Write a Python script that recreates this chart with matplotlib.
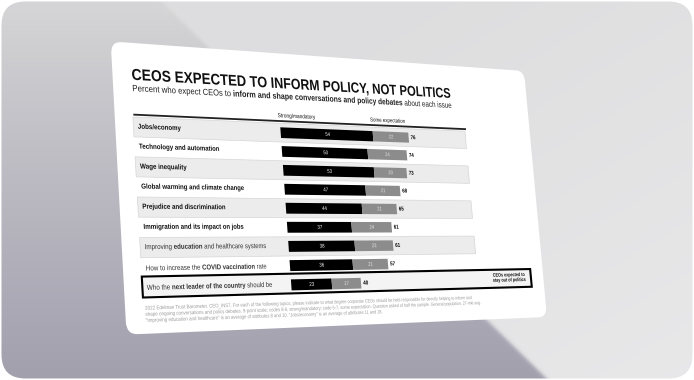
import numpy as np
import matplotlib
matplotlib.use("Agg")
import matplotlib.pyplot as plt
from matplotlib import patheffects
from matplotlib.path import Path
from matplotlib.patches import FancyBboxPatch, Rectangle
from matplotlib.transforms import IdentityTransform, blended_transform_factory
from matplotlib.lines import Line2D

plt.rcParams['font.family'] = ['Liberation Sans', 'DejaVu Sans']
plt.rcParams['mathtext.fontset'] = 'custom'
plt.rcParams['mathtext.rm'] = 'Liberation Sans'
plt.rcParams['mathtext.bf'] = 'Liberation Sans:bold'
plt.rcParams['mathtext.it'] = 'Liberation Sans:italic'

# ---------------- data ----------------
title = "CEOS EXPECTED TO INFORM POLICY, NOT POLITICS"
subtitle_plain_a = "Percent who expect CEOs to "
subtitle_bold = "inform and shape conversations and policy debates"
subtitle_plain_b = " about each issue"
categories = ["Jobs/economy",
              "Technology and automation",
              "Wage inequality",
              "Global warming and climate change",
              "Prejudice and discrimination",
              "Immigration and its impact on jobs",
              "Improving education and healthcare systems",
              "How to increase the COVID vaccination rate",
              "Who the next leader of the country should be"]
emphasis = ["", "", "", "", "", "",
            "education", "COVID vaccination", "next leader of the country"]
strong = [54, 50, 53, 47, 44, 37, 38, 36, 23]
some = [22, 24, 20, 21, 21, 24, 23, 21, 17]
totals = [76, 74, 73, 68, 65, 61, 61, 57, 40]
series_names = ["Strong/mandatory", "Some expectation"]
callout = "CEOs expected to\nstay out of politics"
footnote = ("2022 Edelman Trust Barometer. CEO_INS7. For each of the following topics, please indicate to what degree corporate CEOs should be held responsible for directly helping to inform and\n"
            "shape ongoing conversations and policy debates. 9-point scale; codes 8-9, strong/mandatory; code 5-7, some expectation. Question asked of half the sample. General population, 27-mkt avg.\n"
            "\"Improving education and healthcare\" is an average of attributes 8 and 10. \"Jobs/economy\" is an average of attributes 11 and 18.")

# ---------------- geometry / layout ----------------
FIG_W, FIG_H = 694, 380
SW, SH = 540.0, 280.0                     # flat slide size (px)
CARD = np.array([[110.7, 41.4], [524.0, 71.0], [547.0, 317.0], [126.5, 334.6]])  # TL TR BR BL


def unit_homography(corners):
    src = [(0, 0), (1, 0), (1, 1), (0, 1)]
    A, b = [], []
    for (u, v), (x, y) in zip(src, corners):
        A.append([u, v, 1, 0, 0, 0, -u * x, -v * x]); b.append(x)
        A.append([0, 0, 0, u, v, 1, -u * y, -v * y]); b.append(y)
    h = np.linalg.solve(np.array(A, float), np.array(b, float))
    return np.append(h, 1.0).reshape(3, 3)


M = unit_homography(CARD)


def to_image(XY):
    XY = np.asarray(XY, float)
    u = XY[:, 0] / SW
    v = (SH - XY[:, 1]) / SH
    P = np.column_stack([u, v, np.ones_like(u)]) @ M.T
    return np.column_stack([P[:, 0] / P[:, 2], FIG_H - P[:, 1] / P[:, 2]])


class Warp(patheffects.AbstractPathEffect):
    def draw_path(self, renderer, gc, tpath, affine, rgbFace=None):
        verts = affine.transform(tpath.vertices)
        renderer.draw_path(gc, Path(to_image(verts), tpath.codes),
                           IdentityTransform(), rgbFace)


WARP = [Warp()]

fig = plt.figure(figsize=(FIG_W / 100, FIG_H / 100), dpi=100)
fig.patch.set_facecolor("white")

# ---------------- background ----------------
bax = fig.add_axes([0, 0, 1, 1])
bax.set_axis_off()
yy, xx = np.mgrid[0:FIG_H, 0:FIG_W] + 0.5
diag = (xx - 160) - yy * (385.0 / 377.0)
w = (1 / (1 + np.exp(-diag / 1.5)))[..., None]
tl = np.clip((yy - 10) / 360, 0, 1)[..., None] ** 0.9
left = np.array([0.835, 0.835, 0.84]) * (1 - tl) + np.array([0.64, 0.63, 0.685]) * tl
tr = np.clip((yy + (xx - 450) * 0.6) / 520, 0, 1)[..., None]
right = np.array([0.87, 0.87, 0.875]) * (1 - tr) + np.array([0.91, 0.91, 0.915]) * tr
img = left * (1 - w) + right * w
im = bax.imshow(img, extent=(0, FIG_W, FIG_H, 0), interpolation="bilinear", aspect="auto", zorder=0)
bax.set_xlim(0, FIG_W)
bax.set_ylim(FIG_H, 0)
frame = FancyBboxPatch((1.5, 1.5), FIG_W - 3, FIG_H - 3, boxstyle="round,pad=0,rounding_size=24",
                       transform=bax.transData, facecolor="none", edgecolor="none")
bax.add_patch(frame)
im.set_clip_path(frame)

# ---------------- flat slide axes ----------------
sax = fig.add_axes([0, 0, SW / FIG_W, SH / FIG_H], zorder=1)
sax.set_axis_off()
sax.set_xlim(0, SW)
sax.set_ylim(SH, 0)

card = FancyBboxPatch((0, 0), SW, SH, boxstyle="round,pad=0,rounding_size=12",
                      facecolor="white", edgecolor="none", clip_on=False, path_effects=WARP)
sax.add_patch(card)

TXT = "#111111"
t_title = sax.text(0.039 * SW, 0.13 * SH, title, fontsize=11, fontweight="bold", color=TXT,
                   ha="left", va="baseline", path_effects=WARP)


def bf(s):
    return r"$\mathbf{" + s.replace(" ", r"\ ") + "}$"


t_sub = sax.text(0.039 * SW, 0.170 * SH, subtitle_plain_a + bf(subtitle_bold) + subtitle_plain_b,
                 fontsize=6, color="#222222", ha="left", va="baseline", path_effects=WARP)

# ---------------- chart axes ----------------
U0, U_PER = 0.357, 0.0041
ROW0_V, ROW_DV = 0.295, 0.0691
n = len(categories)
v_top = ROW0_V - ROW_DV / 2
v_bot = ROW0_V + (n - 0.5) * ROW_DV
cax = fig.add_axes([U0 * SW / FIG_W, SH * (1 - v_bot) / FIG_H,
                    100 * U_PER * SW / FIG_W, SH * (v_bot - v_top) / FIG_H], zorder=2)
cax.set_axis_off()

bt = blended_transform_factory(sax.transData, cax.transData)
rows = np.arange(n)

# row bands
for i in rows:
    if i % 2 == 0 and i < n - 1:
        sax.add_patch(Rectangle((0.037 * SW, i - 0.5), (0.819 - 0.037) * SW, 1.0, transform=bt,
                                facecolor="#ececec", edgecolor="#d6d6d6", lw=0.5,
                                clip_on=False, path_effects=WARP))
# boxed last row
sax.add_patch(Rectangle((0.037 * SW, n - 1 - 0.58), (0.965 - 0.037) * SW, 1.02, transform=bt,
                        facecolor="#f4f4f4", edgecolor="black", lw=1.5,
                        clip_on=False, path_effects=WARP))
# top rule
sax.add_line(Line2D([0.04 * SW, 0.82 * SW], [-0.62, -0.62], transform=bt, color="#222222",
                    lw=1.3, clip_on=False, path_effects=WARP))

# row labels
for i, (lab, emph) in enumerate(zip(categories, emphasis)):
    if emph:
        s = lab.replace(emph, bf(emph))
        sax.text(0.046 * SW, i, s, transform=bt, fontsize=5.0, color="#333333",
                 ha="left", va="center", path_effects=WARP)
    else:
        sax.text(0.046 * SW, i, lab, transform=bt, fontsize=5.0, fontweight="bold", color=TXT,
                 ha="left", va="center", path_effects=WARP)

# bars
cax.barh(rows, strong, height=0.57, color="black", clip_on=False, path_effects=WARP)
cax.barh(rows, some, left=strong, height=0.57, color="#8c8c8c", clip_on=False, path_effects=WARP)
for i in rows:
    cax.text(strong[i] / 2, i, str(strong[i]), color="white", fontsize=4, ha="center", va="center",
             path_effects=WARP)
    cax.text(strong[i] + some[i] / 2, i, str(some[i]), color="#e6e6e6", fontsize=4, ha="center",
             va="center", path_effects=WARP)
    cax.text(totals[i] + 1.3, i, str(totals[i]), color="black", fontsize=4.3, fontweight="bold",
             ha="left", va="center", path_effects=WARP)

cax.text(-1, -0.9, series_names[0], fontsize=4.3, color=TXT, ha="left", va="center", path_effects=WARP)
cax.text(53, -0.9, series_names[1], fontsize=4.3, color=TXT, ha="left", va="center", path_effects=WARP)
cax.set_xlim(0, 100)
cax.set_ylim(n - 0.5, -0.5)

# callout
sax.text(0.904 * SW, n - 1 - 0.12, callout, transform=bt, fontsize=4.0, fontweight="bold",
         color=TXT, ha="center", va="center", linespacing=1.15, path_effects=WARP)

# footnote
t_foot = sax.text(0.040 * SW, 0.905 * SH, footnote, fontsize=2.9, color="#9a9a9a",
                  ha="left", va="top", linespacing=1.2, path_effects=WARP)

# ---------------- fit widths ----------------
renderer = fig.canvas.get_renderer()


def fit_width(t, target):
    wdt = t.get_window_extent(renderer).width
    t.set_fontsize(t.get_fontsize() * target / wdt)


fit_width(t_title, (0.786 - 0.039) * SW)
fit_width(t_sub, (0.796 - 0.039) * SW)
fit_width(t_foot, (0.815 - 0.040) * SW)

fig.savefig("out.png", dpi=100, facecolor="white")
